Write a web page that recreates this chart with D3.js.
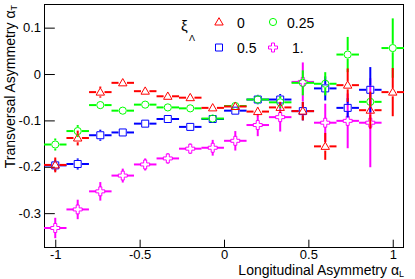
<!DOCTYPE html>
<html><head><meta charset="utf-8">
<script src="https://cdn.jsdelivr.net/npm/d3@7/dist/d3.min.js"></script>
<style>
body{margin:0;background:#fff}
svg{display:block;font-family:"Liberation Sans",Arial,Helvetica,sans-serif}
</style>
</head><body>
<svg id="chart" width="415" height="279"></svg>
<script>
// ---- data ----
const xValues = [-1.0, -0.867, -0.733, -0.6, -0.467, -0.333, -0.2, -0.067, 0.067, 0.2, 0.333, 0.467, 0.6, 0.733, 0.867, 1.0];
const xHalfWidth = 0.0667;
const seriesNames = ["0", "0.25", "0.5", "1."];
const yXi0   = [-0.196, -0.138, -0.039, -0.019, -0.037, -0.048, -0.051, -0.073, -0.070, -0.081, -0.072, -0.080, -0.156, -0.024, -0.078, -0.039];
const eXi0   = [0.016, 0.016, 0.012, 0.007, 0.008, 0.007, 0.007, 0.008, 0.009, 0.010, 0.012, 0.020, 0.029, 0.036, 0.040, 0.052];
const yXi025 = [-0.152, -0.123, -0.067, -0.079, -0.066, -0.072, -0.074, -0.096, -0.069, -0.055, -0.061, -0.019, -0.021, 0.042, -0.060, 0.056];
const eXi025 = [0.013, 0.013, 0.008, 0.006, 0.007, 0.007, 0.007, 0.008, 0.009, 0.010, 0.013, 0.027, 0.025, 0.038, 0.010, 0.064];
const yXi05  = [-0.197, -0.194, -0.132, -0.126, -0.107, -0.097, -0.114, -0.097, -0.079, -0.055, -0.055, -0.080, -0.031, -0.073, -0.034];
const eXi05  = [0.012, 0.012, 0.012, 0.008, 0.008, 0.008, 0.008, 0.008, 0.009, 0.010, 0.012, 0.020, 0.026, 0.021, 0.049];
const yXi1   = [-0.332, -0.292, -0.253, -0.219, -0.195, -0.182, -0.161, -0.159, -0.144, -0.110, -0.093, -0.017, -0.105, -0.101, -0.105];
const eXi1   = [0.022, 0.021, 0.020, 0.015, 0.013, 0.011, 0.011, 0.017, 0.021, 0.024, 0.031, 0.042, 0.041, 0.059, 0.096];
const xTickValues = [-1, -0.5, 0, 0.5, 1];
const xTickLabels = ["-1", "-0.5", "0", "0.5", "1"];
const yTickValues = [0.1, 0, -0.1, -0.2, -0.3];
const yTickLabels = ["0.1", "0", "-0.1", "-0.2", "-0.3"];
const xMinorStep = 0.1, yMinorStep = 0.02;

// ---- layout ----
const svg = d3.select("#chart");
const L = 44, R = 404, T = 4, B = 247;
const x = d3.scaleLinear().domain([-1.0667, 1.0667]).range([L, R]);
const y = d3.scaleLinear().domain([-0.373, 0.151]).range([B, T]);

const colors = ["#ff0000", "#00ff00", "#0000ff", "#ff00ff"];
const shapes = ["tri", "circ", "sq", "cross"];
const series = [
  {name: seriesNames[0], ys: yXi0, es: eXi0, color: colors[0], shape: shapes[0]},
  {name: seriesNames[1], ys: yXi025, es: eXi025, color: colors[1], shape: shapes[1]},
  {name: seriesNames[2], ys: yXi05, es: eXi05, color: colors[2], shape: shapes[2]},
  {name: seriesNames[3], ys: yXi1, es: eXi1, color: colors[3], shape: shapes[3]}
];

function markerPath(shape) {
  if (shape === "tri") return "M0,-4.3L4.2,3L-4.2,3Z";
  if (shape === "sq") return "M-3.5,-3.5H3.5V3.5H-3.5Z";
  if (shape === "cross") return "M-1.5,-4.5H1.5V-1.5H4.5V1.5H1.5V4.5H-1.5V1.5H-4.5V-1.5H-1.5Z";
  return null;
}
function drawMarker(g, shape, cx, cy, color) {
  if (shape === "circ") {
    g.append("circle").attr("cx", cx).attr("cy", cy).attr("r", 3.6)
      .attr("fill", "none").attr("stroke", color).attr("stroke-width", 1);
  } else {
    g.append("path").attr("d", markerPath(shape))
      .attr("transform", `translate(${cx},${cy})`)
      .attr("fill", "none").attr("stroke", color).attr("stroke-width", 1);
  }
}

// ---- axes (ticks inward, ROOT style) ----
const fmtX = d => xTickLabels[xTickValues.indexOf(d)];
const fmtY = d => yTickLabels[yTickValues.indexOf(d)];
const xMinor = d3.range(-1, 1.0001, xMinorStep).map(v => +v.toFixed(2));
const yMinor = d3.range(-0.36, 0.1501, yMinorStep).map(v => +v.toFixed(3));

const gx = svg.append("g").attr("transform", `translate(0,${B})`);
gx.call(d3.axisBottom(x).tickValues(xMinor).tickSize(-3.6).tickFormat(""));
gx.call(d3.axisBottom(x).tickValues(xTickValues).tickSize(-7.3).tickPadding(3).tickFormat(fmtX));
gx.selectAll(".domain").remove();
gx.selectAll("text").attr("font-size", 13).attr("font-family", "Liberation Sans, Arial, sans-serif").attr("fill", "#000");
gx.selectAll("line").attr("stroke", "#000");

const gy = svg.append("g").attr("transform", `translate(${L},0)`);
gy.call(d3.axisLeft(y).tickValues(yMinor).tickSize(-5.4).tickFormat(""));
gy.call(d3.axisLeft(y).tickValues(yTickValues).tickSize(-10.8).tickPadding(3).tickFormat(fmtY));
gy.selectAll(".domain").remove();
gy.selectAll("text").attr("font-size", 13).attr("font-family", "Liberation Sans, Arial, sans-serif").attr("fill", "#000");
gy.selectAll("line").attr("stroke", "#000");

// frame
svg.append("rect").attr("x", L + 0.5).attr("y", T + 0.5).attr("width", R - L - 1).attr("height", B - T)
  .attr("fill", "none").attr("stroke", "#000").attr("stroke-width", 1);

// ---- data points (draw in reverse so xi=0 is on top) ----
const gap = 4.2;
const plot = svg.append("g");
[...series].reverse().forEach(s => {
  const g = plot.append("g");
  s.ys.forEach((v, i) => {
    const cx = x(xValues[i]), cy = y(v);
    const x0 = x(xValues[i] - xHalfWidth), x1 = x(xValues[i] + xHalfWidth);
    const yTop = y(v + s.es[i]), yBot = y(v - s.es[i]);
    const segs = [[x0, cy, cx - gap, cy], [cx + gap, cy, x1, cy]];
    if (cy - yTop > gap) segs.push([cx, yTop, cx, cy - gap]);
    if (yBot - cy > gap) segs.push([cx, cy + gap, cx, yBot]);
    segs.forEach(sg => g.append("line").attr("x1", sg[0]).attr("y1", sg[1]).attr("x2", sg[2]).attr("y2", sg[3])
      .attr("stroke", s.color).attr("stroke-width", 2));
    drawMarker(g, s.shape, cx, cy, s.color);
  });
});

// ---- legend ----
const leg = svg.append("g").attr("font-size", 14).attr("fill", "#000");
leg.append("text").attr("x", 181).attr("y", 31).attr("font-size", 15).text("ξ");
leg.append("text").attr("x", 189).attr("y", 41).attr("font-size", 9).text("Λ");
const legPos = [[219, 22, 237, 28], [273, 22, 287, 28], [219, 47.5, 237, 52.5], [273, 47.5, 292, 52.5]];
series.forEach((s, i) => {
  const p = legPos[i];
  drawMarker(leg, s.shape, p[0], p[1], s.color);
  leg.append("text").attr("x", p[2]).attr("y", p[3]).text(s.name);
});

// ---- axis titles ----
const xt = svg.append("text").attr("x", 404).attr("y", 275).attr("text-anchor", "end").attr("font-size", 14);
xt.append("tspan").text("Longitudinal Asymmetry α");
xt.append("tspan").attr("font-size", 9).attr("dy", 2).text("L");

const yt = svg.append("text").attr("transform", "translate(15,5) rotate(-90)").attr("text-anchor", "end").attr("font-size", 14);
yt.append("tspan").text("Transversal Asymmetry α");
yt.append("tspan").attr("font-size", 9).attr("dy", 2).text("T");
</script>
</body></html>
